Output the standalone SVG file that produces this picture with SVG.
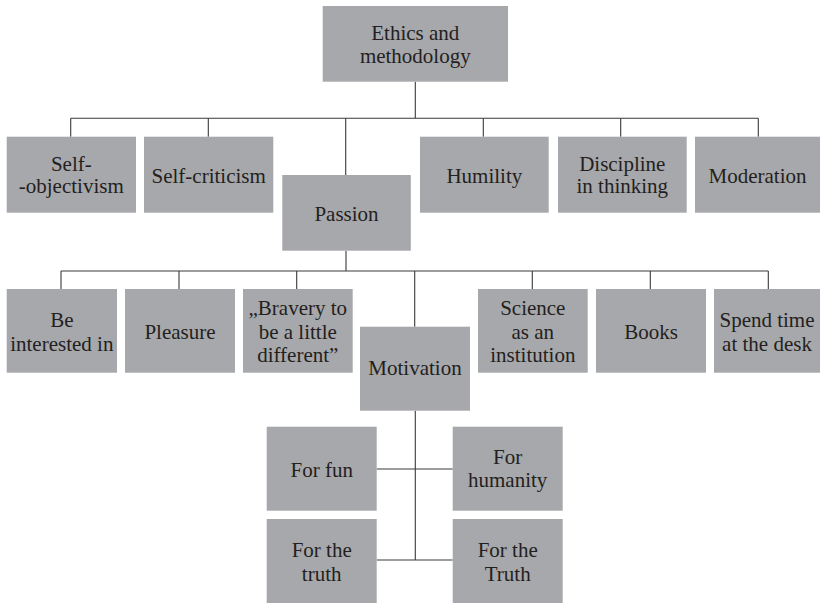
<svg xmlns="http://www.w3.org/2000/svg" width="820" height="603" viewBox="0 0 820 603">
<style>
.box{fill:#a7a8ab}
text{font-family:'Liberation Serif','DejaVu Serif',serif;font-size:21px;fill:#231f20;text-anchor:middle}
.c{stroke:#3a3a3a;stroke-width:1.1;fill:none}
</style>
<rect width="820" height="603" fill="#ffffff"/>
<g id="connectors" class="c">
<path d="M415.3 81.7V118.3M70.7 118.3H758.3"/>
<path d="M70.7 118.3V136.7M208.3 118.3V136.7M345.7 118.3V175M483.3 118.3V136.7M620.7 118.3V136.7M758.3 118.3V136.7"/>
<path d="M346 250.7V271M61 271H768.3"/>
<path d="M61 271V289M179 271V289M296.7 271V289M414.7 271V326.7M532.3 271V289M650.3 271V289M768.3 271V289"/>
<path d="M415.3 410.7V560M376.7 469H452.7M376.7 560H452.7"/>
</g>
<g font-family="Liberation Serif, DejaVu Serif, serif">
<g id="n-ethics"><rect class="box" x="322.7" y="6" width="185.3" height="75.7"/><text x="415.3" y="40">Ethics and</text><text x="415.3" y="62.7">methodology</text></g>
<g id="n-selfobj"><rect class="box" x="6.7" y="136.7" width="129.3" height="76"/><text x="71.3" y="171">Self-</text><text x="71.3" y="193.3">-objectivism</text></g>
<g id="n-selfcrit"><rect class="box" x="144" y="136.7" width="129.3" height="76"/><text x="208.7" y="183">Self-criticism</text></g>
<g id="n-passion"><rect class="box" x="282.3" y="175" width="128.5" height="75.7"/><text x="346.5" y="220.7">Passion</text></g>
<g id="n-humility"><rect class="box" x="420" y="136.7" width="128.7" height="76"/><text x="484.3" y="183">Humility</text></g>
<g id="n-discipline"><rect class="box" x="558" y="136.7" width="128.7" height="76"/><text x="622.3" y="171">Discipline</text><text x="622.3" y="193.3">in thinking</text></g>
<g id="n-moderation"><rect class="box" x="695" y="136.7" width="125" height="76"/><text x="757.5" y="183">Moderation</text></g>
<g id="n-interested"><rect class="box" x="6.7" y="289" width="110.3" height="83.7"/><text x="61.8" y="326.7">Be</text><text x="61.8" y="350.7">interested in</text></g>
<g id="n-pleasure"><rect class="box" x="125" y="289" width="110" height="83.7"/><text x="180" y="338.7">Pleasure</text></g>
<g id="n-bravery"><rect class="box" x="243" y="289" width="109.7" height="83.7"/><text x="297.8" y="314.7">„Bravery to</text><text x="297.8" y="338.7">be a little</text><text x="297.8" y="362">different”</text></g>
<g id="n-motivation"><rect class="box" x="360" y="326.7" width="110" height="84"/><text x="415" y="375">Motivation</text></g>
<g id="n-science"><rect class="box" x="478" y="289" width="109.7" height="83.7"/><text x="532.8" y="314.7">Science</text><text x="532.8" y="338.7">as an</text><text x="532.8" y="362">institution</text></g>
<g id="n-books"><rect class="box" x="596" y="289" width="110" height="83.7"/><text x="651" y="338.7">Books</text></g>
<g id="n-desk"><rect class="box" x="714" y="289" width="106" height="83.7"/><text x="767" y="326.7">Spend time</text><text x="767" y="350.7">at the desk</text></g>
<g id="n-fun"><rect class="box" x="266.7" y="426.7" width="110" height="84"/><text x="321.7" y="476.7">For fun</text></g>
<g id="n-humanity"><rect class="box" x="452.7" y="426.7" width="110" height="84"/><text x="507.7" y="464">For</text><text x="507.7" y="487.3">humanity</text></g>
<g id="n-truth"><rect class="box" x="266.7" y="519" width="110" height="84"/><text x="321.7" y="556.7">For the</text><text x="321.7" y="580.7">truth</text></g>
<g id="n-Truth"><rect class="box" x="452.7" y="519" width="110" height="84"/><text x="507.7" y="556.7">For the</text><text x="507.7" y="580.7">Truth</text></g>
</g>
</svg>
